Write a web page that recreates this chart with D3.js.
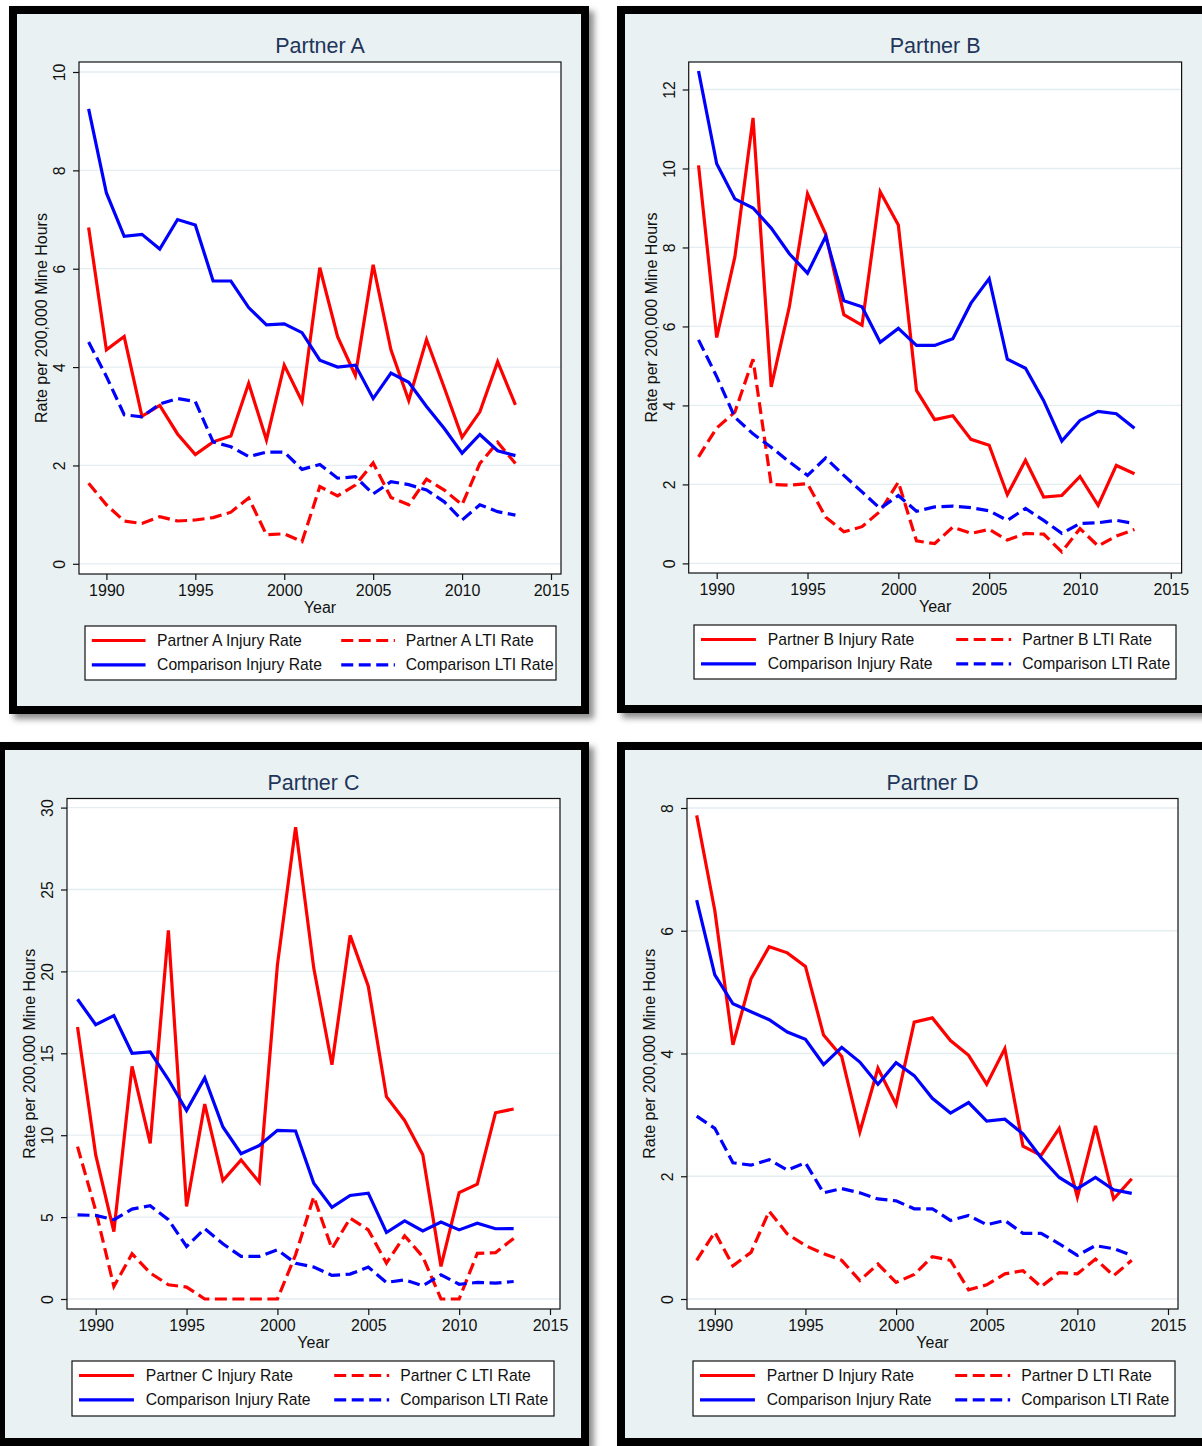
<!DOCTYPE html>
<html>
<head>
<meta charset="utf-8">
<title>Injury and LTI rates by partner</title>
<script src="https://cdn.jsdelivr.net/npm/d3@7"></script>
<style>
  html, body { margin: 0; padding: 0; background: #ffffff; }
  svg { display: block; font-family: "Liberation Sans", Arial, Helvetica, sans-serif; }
</style>
</head>
<body>
<svg id="chart" width="1202" height="1446"></svg>
<script>
// ---- data -------------------------------------------------------------
const years = [1989, 1990, 1991, 1992, 1993, 1994, 1995, 1996, 1997, 1998, 1999, 2000, 2001,
               2002, 2003, 2004, 2005, 2006, 2007, 2008, 2009, 2010, 2011, 2012, 2013];
const xTicks = [1990, 1995, 2000, 2005, 2010, 2015];

const partnerAInjury = [6.84, 4.35, 4.62, 3.00, 3.22, 2.64, 2.22, 2.48, 2.60, 3.67, 2.52, 4.04, 3.30,
                        6.02, 4.62, 3.83, 6.08, 4.35, 3.32, 4.56, 3.58, 2.57, 3.09, 4.11, 3.23];
const compAInjury    = [9.25, 7.54, 6.66, 6.70, 6.40, 7.00, 6.89, 5.75, 5.75, 5.21, 4.86, 4.88, 4.70,
                        4.14, 4.00, 4.04, 3.36, 3.88, 3.69, 3.20, 2.75, 2.25, 2.63, 2.30, 2.20];
const partnerALti    = [1.64, 1.20, 0.87, 0.82, 0.96, 0.87, 0.89, 0.94, 1.05, 1.34, 0.59, 0.61, 0.45,
                        1.57, 1.38, 1.60, 2.05, 1.35, 1.20, 1.72, 1.50, 1.20, 2.04, 2.47, 2.04];
const compALti       = [4.51, 3.81, 3.03, 2.99, 3.25, 3.36, 3.30, 2.48, 2.38, 2.18, 2.27, 2.27, 1.92,
                        2.02, 1.74, 1.77, 1.42, 1.67, 1.61, 1.50, 1.26, 0.89, 1.20, 1.06, 0.99];
const yTicksA = [0, 2, 4, 6, 8, 10];

const partnerBInjury = [10.08, 5.72, 7.76, 11.28, 4.47, 6.50, 9.36, 8.34, 6.30, 6.03, 9.41, 8.57, 4.38,
                        3.64, 3.74, 3.14, 2.99, 1.74, 2.61, 1.68, 1.72, 2.20, 1.47, 2.48, 2.27];
const compBInjury    = [12.47, 10.12, 9.23, 9.00, 8.49, 7.84, 7.35, 8.28, 6.65, 6.50, 5.60, 5.95, 5.52,
                        5.52, 5.69, 6.59, 7.21, 5.17, 4.94, 4.12, 3.10, 3.62, 3.85, 3.79, 3.42];
const partnerBLti    = [2.70, 3.43, 3.83, 5.17, 2.00, 1.98, 2.02, 1.17, 0.80, 0.93, 1.32, 2.06, 0.57,
                        0.50, 0.92, 0.76, 0.86, 0.59, 0.76, 0.74, 0.29, 0.88, 0.44, 0.69, 0.86];
const compBLti       = [5.66, 4.73, 3.70, 3.28, 2.94, 2.57, 2.23, 2.67, 2.23, 1.81, 1.39, 1.72, 1.32,
                        1.43, 1.45, 1.41, 1.33, 1.09, 1.39, 1.09, 0.76, 1.01, 1.03, 1.09, 1.01];
const yTicksB = [0, 2, 4, 6, 8, 10, 12];

const partnerCInjury = [16.6, 8.8, 4.12, 14.2, 9.5, 22.5, 5.65, 11.9, 7.23, 8.49, 7.13, 20.4, 28.8,
                        20.2, 14.3, 22.2, 19.1, 12.35, 10.9, 8.8, 1.99, 6.5, 7.01, 11.37, 11.6];
const compCInjury    = [18.3, 16.75, 17.3, 15.0, 15.08, 13.4, 11.5, 13.5, 10.5, 8.87, 9.37, 10.3, 10.26,
                        7.07, 5.59, 6.32, 6.46, 4.06, 4.77, 4.16, 4.70, 4.22, 4.63, 4.29, 4.30];
const partnerCLti    = [9.3, 5.4, 0.77, 2.76, 1.59, 0.87, 0.73, 0, 0, 0, 0, 0, 2.7,
                        6.24, 3.07, 4.93, 4.22, 2.19, 3.86, 2.58, 0, 0, 2.79, 2.83, 3.7];
const compCLti       = [5.14, 5.10, 4.84, 5.49, 5.69, 4.84, 3.21, 4.29, 3.37, 2.60, 2.60, 3.00, 2.18,
                        1.95, 1.44, 1.52, 1.95, 1.01, 1.17, 0.81, 1.48, 0.90, 1.01, 0.97, 1.07];
const yTicksC = [0, 5, 10, 15, 20, 25, 30];

const partnerDInjury = [7.88, 6.33, 4.14, 5.22, 5.74, 5.64, 5.42, 4.30, 3.95, 2.72, 3.76, 3.17, 4.51,
                        4.58, 4.21, 3.97, 3.50, 4.08, 2.49, 2.34, 2.78, 1.66, 2.82, 1.63, 1.96];
const compDInjury    = [6.50, 5.28, 4.81, 4.68, 4.55, 4.35, 4.23, 3.82, 4.10, 3.86, 3.50, 3.85, 3.64,
                        3.27, 3.03, 3.20, 2.90, 2.93, 2.69, 2.30, 1.98, 1.80, 1.98, 1.78, 1.72];
const partnerDLti    = [0.63, 1.09, 0.54, 0.76, 1.43, 1.06, 0.87, 0.74, 0.63, 0.30, 0.57, 0.27, 0.40,
                        0.69, 0.63, 0.15, 0.23, 0.41, 0.46, 0.20, 0.43, 0.41, 0.65, 0.38, 0.63];
const compDLti       = [2.98, 2.78, 2.22, 2.18, 2.27, 2.10, 2.22, 1.73, 1.80, 1.73, 1.63, 1.60, 1.47,
                        1.47, 1.28, 1.36, 1.21, 1.28, 1.07, 1.07, 0.90, 0.71, 0.87, 0.82, 0.71];
const yTicksD = [0, 2, 4, 6, 8];

const partnerNames = ["Partner A", "Partner B", "Partner C", "Partner D"];

// ---- layout of the four framed panels (pixels) -------------------------
const layouts = [
  { frame: {x: 9,   y: 6,   w: 580, h: 708}, plot: {x0: 79,  x1: 561,  y0: 62,  y1: 574},
    xr: [106.4, 551],  yr: [563.8, 72],  legend: {x: 85,  y: 626,  w: 471, h: 54} },
  { frame: {x: 617, y: 6,   w: 594, h: 707}, plot: {x0: 688.7, x1: 1181.6, y0: 62, y1: 573},
    xr: [716.7, 1170.8], yr: [563.4, 89.5], legend: {x: 694, y: 625,  w: 482, h: 54} },
  { frame: {x: -3,  y: 742, w: 592, h: 704}, plot: {x0: 67,  x1: 560,  y0: 798.5, y1: 1309},
    xr: [95.7, 550],   yr: [1299, 807.6], legend: {x: 72,  y: 1361, w: 482, h: 55} },
  { frame: {x: 617, y: 742, w: 594, h: 704}, plot: {x0: 687, x1: 1178, y0: 798.5, y1: 1309},
    xr: [714.8, 1168], yr: [1299, 808],   legend: {x: 693, y: 1361, w: 482, h: 55} }
];

const panels = [
  { name: partnerNames[0], injury: partnerAInjury, lti: partnerALti, compInjury: compAInjury, compLti: compALti, yTicks: yTicksA },
  { name: partnerNames[1], injury: partnerBInjury, lti: partnerBLti, compInjury: compBInjury, compLti: compBLti, yTicks: yTicksB },
  { name: partnerNames[2], injury: partnerCInjury, lti: partnerCLti, compInjury: compCInjury, compLti: compCLti, yTicks: yTicksC },
  { name: partnerNames[3], injury: partnerDInjury, lti: partnerDLti, compInjury: compDInjury, compLti: compDLti, yTicks: yTicksD }
];

// ---- styles -------------------------------------------------------------
const RED = "#ff0000", BLUE = "#0000ff";
const LINE_W = 3.2, DASH = "12,5.5";
const BG = "#e9f1f3", GRID = "#e4edf0", TITLE = "#1f3559";

const svg = d3.select("#chart");

const defs = svg.append("defs");
const shadow = defs.append("filter").attr("id", "frameShadow")
  .attr("x", "-5%").attr("y", "-5%").attr("width", "112%").attr("height", "112%");
shadow.append("feDropShadow").attr("dx", 5).attr("dy", 5)
  .attr("stdDeviation", 3).attr("flood-color", "#000").attr("flood-opacity", 0.45);

panels.forEach((p, i) => drawPanel(p, layouts[i]));

function drawPanel(p, L) {
  const g = svg.append("g");
  const f = L.frame, B = 8;

  // black frame with a soft shadow, light graph background inside
  g.append("rect").attr("x", f.x).attr("y", f.y).attr("width", f.w).attr("height", f.h)
    .attr("fill", "#000").attr("filter", "url(#frameShadow)");
  g.append("rect").attr("x", f.x + B).attr("y", f.y + B)
    .attr("width", f.w - 2 * B).attr("height", f.h - 2 * B).attr("fill", BG);

  const P = L.plot;
  const yMax = p.yTicks[p.yTicks.length - 1];
  const x = d3.scaleLinear().domain([1990, 2015]).range(L.xr);
  const y = d3.scaleLinear().domain([0, yMax]).range(L.yr);

  // plot region
  g.append("rect").attr("x", P.x0).attr("y", P.y0)
    .attr("width", P.x1 - P.x0).attr("height", P.y1 - P.y0).attr("fill", "#fff");

  // horizontal gridlines
  g.append("g").selectAll("line").data(p.yTicks).join("line")
    .attr("x1", P.x0).attr("x2", P.x1)
    .attr("y1", d => y(d)).attr("y2", d => y(d))
    .attr("stroke", GRID).attr("stroke-width", 1.3);

  // series
  const line = d3.line().x((d, j) => x(years[j])).y(d => y(d));
  const series = [
    { values: p.injury,     color: RED,  dash: null },
    { values: p.lti,        color: RED,  dash: DASH },
    { values: p.compInjury, color: BLUE, dash: null },
    { values: p.compLti,    color: BLUE, dash: DASH }
  ];
  const lines = g.append("g");
  series.forEach(s => {
    lines.append("path").datum(s.values).attr("d", line)
      .attr("fill", "none").attr("stroke", s.color).attr("stroke-width", LINE_W)
      .attr("stroke-linejoin", "miter").attr("stroke-miterlimit", 4)
      .attr("stroke-dasharray", s.dash);
  });

  // plot border
  g.append("rect").attr("x", P.x0).attr("y", P.y0)
    .attr("width", P.x1 - P.x0).attr("height", P.y1 - P.y0)
    .attr("fill", "none").attr("stroke", "#111").attr("stroke-width", 1.2);

  // y axis with vertical tick labels
  const ya = g.append("g").attr("transform", `translate(${P.x0},0)`)
    .call(d3.axisLeft(y).tickValues(p.yTicks).tickSize(6).tickPadding(0).tickFormat(d3.format("d")));
  ya.select(".domain").remove();
  ya.selectAll(".tick line").attr("stroke", "#111").attr("stroke-width", 1.2);
  ya.selectAll(".tick text")
    .attr("transform", "rotate(-90)")
    .attr("x", 0).attr("y", -14).attr("dy", 0)
    .attr("text-anchor", "middle")
    .attr("fill", "#111").style("font-size", "15.8px");

  // x axis
  const xa = g.append("g").attr("transform", `translate(0,${P.y1})`)
    .call(d3.axisBottom(x).tickValues(xTicks).tickSize(6).tickFormat(d3.format("d")));
  xa.select(".domain").remove();
  xa.selectAll(".tick line").attr("stroke", "#111").attr("stroke-width", 1.2);
  xa.selectAll(".tick text").attr("y", 22).attr("dy", 0)
    .attr("fill", "#111").style("font-size", "16px");

  // titles
  const cx = (P.x0 + P.x1) / 2;
  g.append("text").attr("x", cx).attr("y", P.y0 - 9).attr("text-anchor", "middle")
    .attr("fill", TITLE).style("font-size", "21.5px").text(p.name);
  g.append("text").attr("x", cx).attr("y", P.y1 + 39).attr("text-anchor", "middle")
    .attr("fill", "#111").style("font-size", "16px").text("Year");
  g.append("text")
    .attr("transform", `translate(${P.x0 - 32},${(P.y0 + P.y1) / 2}) rotate(-90)`)
    .attr("text-anchor", "middle").attr("fill", "#111").style("font-size", "16px")
    .text("Rate per 200,000 Mine Hours");

  // legend
  const lg = L.legend;
  g.append("rect").attr("x", lg.x).attr("y", lg.y).attr("width", lg.w).attr("height", lg.h)
    .attr("fill", "#fff").attr("stroke", "#111").attr("stroke-width", 1.2);
  const items = [
    { label: `${p.name} Injury Rate`, color: RED,  dash: null, col: 0, row: 0 },
    { label: `${p.name} LTI Rate`,    color: RED,  dash: DASH, col: 1, row: 0 },
    { label: "Comparison Injury Rate", color: BLUE, dash: null, col: 0, row: 1 },
    { label: "Comparison LTI Rate",    color: BLUE, dash: DASH, col: 1, row: 1 }
  ];
  const sampleX = [0.0145, 0.544], textX = [0.153, 0.681], sampleLen = 0.114;
  const rowY = [14.5, 38.8];
  const li = g.append("g").selectAll("g").data(items).join("g");
  li.append("line")
    .attr("x1", d => lg.x + sampleX[d.col] * lg.w)
    .attr("x2", d => lg.x + (sampleX[d.col] + sampleLen) * lg.w)
    .attr("y1", d => lg.y + rowY[d.row]).attr("y2", d => lg.y + rowY[d.row])
    .attr("stroke", d => d.color).attr("stroke-width", LINE_W)
    .attr("stroke-dasharray", d => d.dash);
  li.append("text")
    .attr("x", d => lg.x + textX[d.col] * lg.w)
    .attr("y", d => lg.y + rowY[d.row] + 5.5)
    .attr("fill", "#111").style("font-size", "15.7px")
    .text(d => d.label);
}
</script>
</body>
</html>
